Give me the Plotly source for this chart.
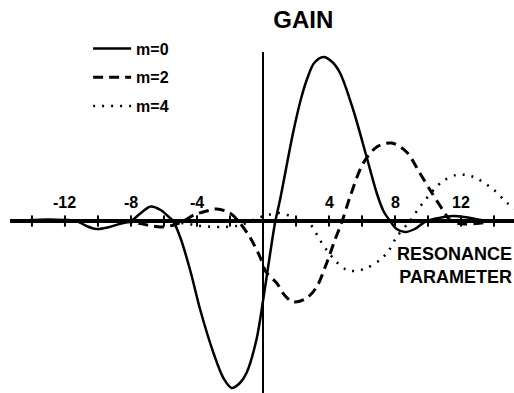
import plotly.graph_objects as go

# ---- data (y in arbitrary gain units) ----
m0_x = [-15.3, -14, -13, -12, -11.3, -10.7, -10.1, -9.3, -8.6, -8.0, -7.4, -6.8, -6.2, -5.7, -5.45,
        -5.0, -4.4, -3.8, -3.0, -2.4, -1.9, -1.4, -1.0, -0.4, 0.0, 0.22, 0.53, 0.75, 1.03, 1.82,
        2.3, 2.65, 3.1, 3.66, 4.2, 4.67, 5.47, 6.28, 6.89, 7.3, 7.7, 8.1, 8.6, 9.2, 9.9, 10.8,
        11.5, 12.4, 13.6, 15.3]
m0_y = [0, 0.1, 0.15, 0.1, 0, -0.5, -0.8, -0.6, -0.25, 0, 0.8, 1.45, 1.1, 0.4, 0,
        -1.7, -5.0, -8.9, -13.2, -15.7, -16.7, -16.2, -15.2, -11.9, -8.0, -5.6, -2.2, 0, 2.1, 8.8,
        12.2, 14.1, 15.8, 16.4, 15.9, 14.8, 11.1, 6.4, 2.8, 1.0, 0, -0.8, -1.1, -0.8, 0, 0.35,
        0.5, 0.35, 0, 0]

m2_x = [-15.3, -10, -8, -7, -6.2, -5.4, -4.8, -4.2, -3.4, -2.8, -2.0, -1.4, -0.8, -0.18, 0.18,
        0.83, 1.3, 1.84, 2.65, 3.25, 3.86, 4.36, 4.8, 5.27, 6.08, 6.89, 7.8, 8.7, 9.5, 10.2,
        10.9, 11.4, 12.2, 13.2, 14.0, 15.3]
m2_y = [0, 0, -0.1, -0.4, -0.6, -0.4, 0, 0.6, 1.0, 1.2, 0.8, -0.2, -1.6, -3.6, -5.1,
        -6.2, -7.4, -8.1, -7.7, -6.6, -4.2, -1.9, 0, 2.4, 5.8, 7.4, 7.8, 6.9, 4.8, 2.9,
        1.1, 0, -0.3, -0.2, 0, 0]

m4_x = [-15.3, -6, -4.5, -3.8, -2.5, -1.6, -1.0, -0.3, 0.3, 1.0, 1.8, 2.4, 2.85, 3.45, 3.86,
        4.46, 5.07, 5.6, 6.28, 7.09, 7.6, 8.1, 8.9, 9.5, 10.5, 11.0, 11.7, 12.3, 12.9, 14.0,
        14.8, 15.3]
m4_y = [0, 0, -0.3, -0.5, -0.6, -0.5, -0.2, 0.3, 0.6, 0.8, 0.4, 0, -0.3, -1.9, -2.9,
        -4.1, -4.9, -5.0, -4.7, -3.9, -3.0, -1.6, 0, 1.4, 3.4, 4.1, 4.6, 4.6, 4.3, 3.1,
        1.8, 1.2]

series_names = ["m=0", "m=2", "m=4"]
axis_ticks = [-14, -12, -10, -8, -6, -4, -2, 2, 4, 6, 8, 10, 12, 14]
label_vals = [-12, -8, -4, 4, 8, 12]
label_text = ["-12", "-8", "-4", "4", "8", "12"]

FONT = "Liberation Sans"

fig = go.Figure()

fig.add_trace(go.Scatter(x=m0_x, y=m0_y, mode="lines", name="<b>" + series_names[0] + "</b>",
                         line=dict(color="black", width=2.5, shape="spline", smoothing=0.9),
                         legendgroup="a"))
fig.add_trace(go.Scatter(x=m2_x, y=m2_y, mode="lines", name="<b>" + series_names[1] + "</b>",
                         line=dict(color="black", width=3, dash="10px,6px", shape="spline", smoothing=0.9),
                         legendgroup="b"))
fig.add_trace(go.Scatter(x=m4_x, y=m4_y, mode="lines", name="<b>" + series_names[2] + "</b>",
                         line=dict(color="black", width=2.5, dash="2px,7px", shape="spline", smoothing=0.9),
                         legendgroup="c"))

# tick marks sitting on the horizontal axis
fig.add_trace(go.Scatter(x=axis_ticks, y=[0] * len(axis_ticks), mode="markers",
                         marker=dict(symbol="line-ns", size=8, line=dict(color="black", width=2)),
                         showlegend=False, hoverinfo="skip"))

for v, t in zip(label_vals, label_text):
    fig.add_annotation(x=v, y=0, text="<b>" + t + "</b>", showarrow=False,
                       yshift=19, font=dict(family=FONT, size=16, color="black"))

fig.add_annotation(xref="paper", yref="paper", x=1.0, y=0.375, xanchor="right", yanchor="middle",
                   text="<b>RESONANCE<br>PARAMETER</b>", align="right", showarrow=False,
                   font=dict(family=FONT, size=18, color="black"))

fig.update_layout(
    width=514, height=393,
    margin=dict(l=10, r=0, t=52, b=0),
    paper_bgcolor="white", plot_bgcolor="white",
    title=dict(text="<b>GAIN</b>", x=0.59, xanchor="center", y=0.949, yanchor="middle",
               font=dict(family=FONT, size=24, color="black")),
    showlegend=True,
    legend=dict(x=0.155, y=1.06, xanchor="left", yanchor="top", tracegroupgap=5, itemwidth=38,
                font=dict(family=FONT, size=16, color="black"), bgcolor="rgba(0,0,0,0)"),
    xaxis=dict(range=[-15.33, 15.21], showgrid=False, showticklabels=False, ticks="",
               zeroline=True, zerolinecolor="black", zerolinewidth=1.5, showline=False),
    yaxis=dict(range=[-17.2, 16.9], showgrid=False, showticklabels=False, ticks="",
               zeroline=True, zerolinecolor="black", zerolinewidth=4, showline=False),
)

fig.write_html("out.html")
